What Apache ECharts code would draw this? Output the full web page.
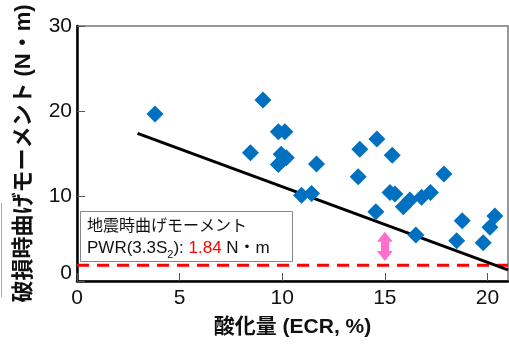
<!DOCTYPE html>
<html>
<head>
<meta charset="utf-8">
<script src="https://cdn.jsdelivr.net/npm/echarts@6/dist/echarts.min.js"></script>
<style>html,body{margin:0;padding:0;background:#fff;}#c{width:509px;height:350px;}</style>
</head>
<body>
<div id="c"></div>
<script>
// Data
const ecr = [3.8, 8.45, 9.06, 9.81, 10.13, 9.95, 10.2, 9.81, 10.94, 11.43, 11.67, 13.7, 13.78, 14.61, 15.36, 14.56, 15.25, 15.49, 15.9, 16.22, 16.79, 17.22, 17.88, 16.51, 18.77, 18.5, 19.79, 20.36, 20.12];
const moment = [19.65, 15.1, 21.3, 17.56, 17.56, 14.9, 14.5, 13.7, 10.1, 10.3, 13.76, 12.27, 15.5, 16.7, 14.8, 8.16, 10.4, 10.24, 8.75, 9.53, 9.84, 10.4, 12.6, 5.41, 7.1, 4.74, 4.5, 7.65, 6.31];
const fitX = [2.95, 21];
const fitY = [17.37, 1.3];
const pwrValue = 1.84;
const arrowX = 15;
const arrowY = [2.95, 5.2];
const xTicks = [0, 5, 10, 15, 20];
const yTicks = [0, 10, 20, 30];
const xName = '酸化量 (ECR, %)';
const yName = '破損時曲げモーメント (N・m)';
const boxLine1 = '地震時曲げモーメント';

const FONT = '"Liberation Sans", "Noto Sans CJK JP", sans-serif';
const chart = echarts.init(document.getElementById('c'));
const points = ecr.map((x, i) => [x, moment[i]]);
const option = {
  animation: false,
  backgroundColor: '#fff',
  grid: { left: 77, right: 1, top: 26, bottom: 69, show: true, borderColor: '#777', borderWidth: 1.5, outerBoundsMode: 'none', containLabel: false },
  xAxis: {
    type: 'value', min: 0, max: 21, interval: 5,
    name: xName, nameLocation: 'middle', nameGap: 36,
    nameTextStyle: { fontSize: 21, fontWeight: 'bold', color: '#111', fontFamily: FONT },
    axisLine: { show: true, lineStyle: { color: '#000', width: 2.5 } },
    axisTick: { show: true, inside: true, length: 8, lineStyle: { color: '#555', width: 1 } },
    axisLabel: { fontSize: 21, color: '#111', margin: 7, fontFamily: FONT, showMaxLabel: false,
      formatter: v => xTicks.includes(v) ? String(v) : '' },
    splitLine: { show: false }
  },
  yAxis: {
    type: 'value', min: 0, max: 30, interval: 10,
    name: yName, nameLocation: 'middle', nameGap: 42,
    nameTextStyle: { fontSize: 22, fontWeight: 'bold', color: '#111', fontFamily: FONT },
    axisLine: { show: true, lineStyle: { color: '#000', width: 2.5 } },
    axisTick: { show: true, inside: true, length: 8, lineStyle: { color: '#555', width: 1 } },
    axisLabel: { fontSize: 21, color: '#111', margin: 5, fontFamily: FONT,
      formatter: v => !yTicks.includes(v) ? '' : (v === 0 ? '{z|0}' : String(v)),
      rich: { z: { fontSize: 21, color: '#111', fontFamily: FONT, padding: [0, 0, 16, 0] } } },
    splitLine: { show: false }
  },
  series: [
    {
      type: 'line', data: [[0, pwrValue], [21, pwrValue]], symbol: 'none', silent: true,
      lineStyle: { color: '#ff0000', width: 3, type: [12, 8] }, z: 3
    },
    {
      type: 'line', data: fitX.map((x, i) => [x, fitY[i]]), symbol: 'none', silent: true,
      lineStyle: { color: '#000', width: 3 }, z: 3
    },
    {
      type: 'scatter', data: points, symbol: 'diamond', symbolSize: 17,
      itemStyle: { color: '#0070C0', opacity: 1 }, z: 4
    },
    {
      type: 'line', data: [], symbol: 'none',
      markLine: {
        silent: true, animation: false,
        symbol: ['triangle', 'triangle'], symbolSize: [16, 10],
        label: { show: false },
        lineStyle: { color: '#FF6ECB', width: 8, type: 'solid', opacity: 1 },
        data: [[{ coord: [arrowX, arrowY[0]] }, { coord: [arrowX, arrowY[1]] }]]
      }, z: 5
    }
  ],
  graphic: [
    { type: 'rect', shape: { x: 80.5, y: 211.5, width: 212, height: 50 },
      style: { fill: '#fff', stroke: '#888', lineWidth: 1 }, z: 100 },
    { type: 'text', x: 87, y: 227, z: 101,
      style: { text: boxLine1, fontSize: 16, fill: '#111', fontFamily: FONT, verticalAlign: 'middle' } },
    { type: 'text', x: 87, y: 247, z: 101,
      style: {
        text: '{a|PWR(3.3S}{s|2}{a|): }{r|' + pwrValue.toFixed(2) + '}{a| N・m}',
        verticalAlign: 'middle', fontFamily: FONT,
        rich: {
          a: { fontSize: 17, fill: '#111', fontFamily: FONT, lineHeight: 20, verticalAlign: 'bottom' },
          s: { fontSize: 11, fill: '#111', fontFamily: FONT, lineHeight: 20, verticalAlign: 'bottom', padding: [0, 0, -3, 0] },
          r: { fontSize: 17, fill: '#ff0000', fontFamily: FONT, lineHeight: 20, verticalAlign: 'bottom' }
        }
      } },
    { type: 'line', shape: { x1: 1.5, y1: 203, x2: 1.5, y2: 297 }, style: { stroke: '#aaa', lineWidth: 1 } }
  ]
};
chart.setOption(option);
</script>
</body>
</html>
